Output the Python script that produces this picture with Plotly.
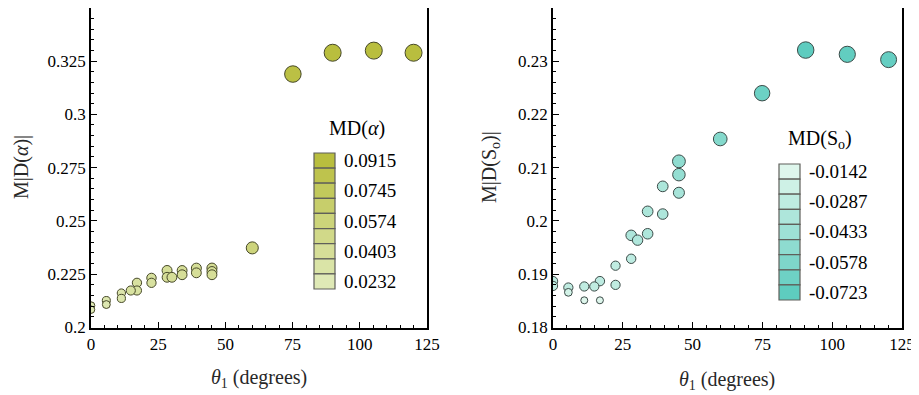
import plotly.graph_objects as go

# ---------------- data ----------------
theta_a = [120.0, 105.2, 89.9, 75.1, 60.0, 45.0, 45.0, 45.0, 39.2, 39.2, 33.9, 33.9,
           28.3, 28.3, 30.1, 22.5, 22.5, 17.1, 17.1, 14.8, 11.3, 11.3, 5.7, 5.7, 0.0, 0.0]
mdD_a = [0.3289, 0.3299, 0.3289, 0.3189, 0.2373, 0.2278, 0.2262, 0.2247, 0.2278, 0.2256,
         0.2267, 0.2247, 0.2267, 0.2235, 0.2235, 0.2232, 0.2209, 0.2209, 0.2173, 0.2173,
         0.2161, 0.2136, 0.2126, 0.2107, 0.2102, 0.2083]
md_alpha = [0.0915, 0.0915, 0.0915, 0.088, 0.056, 0.042, 0.041, 0.040, 0.041, 0.040,
            0.040, 0.040, 0.041, 0.040, 0.040, 0.037, 0.036, 0.036, 0.035, 0.035,
            0.029, 0.028, 0.027, 0.026, 0.0245, 0.0232]

theta_s = [90.5, 105.4, 120.2, 74.9, 59.9, 45.1, 45.1, 45.1, 39.3, 39.3, 33.9, 33.9,
           28.0, 30.3, 28.0, 22.4, 22.4, 16.8, 16.8, 14.8, 11.2, 11.2, 5.5, 5.5, 0.0, 0.0]
mdD_s = [0.2321, 0.2313, 0.2303, 0.2240, 0.2154, 0.2112, 0.2087, 0.2053, 0.2065, 0.2013,
         0.2018, 0.1976, 0.1973, 0.1964, 0.1929, 0.1916, 0.1880, 0.1887, 0.1851, 0.1877,
         0.1877, 0.1851, 0.1875, 0.1866, 0.1887, 0.1878]
md_So = [-0.0723, -0.0705, -0.0690, -0.0660, -0.0550, -0.0500, -0.0480, -0.0390, -0.0370,
         -0.0360, -0.0370, -0.0360, -0.0360, -0.0350, -0.0290, -0.0280, -0.0280, -0.0290,
         -0.0142, -0.0280, -0.0280, -0.0142, -0.0280, -0.0190, -0.0290, -0.0280]

legend_alpha_labels = [0.0915, 0.0745, 0.0574, 0.0403, 0.0232]
legend_So_labels = [-0.0142, -0.0287, -0.0433, -0.0578, -0.0723]

x_ticks = [0, 25, 50, 75, 100, 125]
y_ticks_a = [0.2, 0.225, 0.25, 0.275, 0.3, 0.325]
y_ticks_s = [0.18, 0.19, 0.2, 0.21, 0.22, 0.23]

# ---------------- style ----------------
FONT = "Liberation Serif"
A_LIGHT, A_DARK = (223, 233, 182), (185, 190, 62)
S_LIGHT, S_DARK = (222, 246, 236), (94, 204, 191)
OFF = 8                      # page body margin
W, H = 919 - OFF, 395 - OFF  # figure size


def px(x):   # page x pixel -> paper fraction
    return (x - OFF) / W


def py(y):   # page y pixel (from top) -> paper fraction
    return min(1.0, max(0.0, 1 - (y - OFF) / H))


def lerp(c0, c1, t):
    return "rgb(%d,%d,%d)" % tuple(round(a + (b - a) * t) for a, b in zip(c0, c1))


def fmt(v):
    return "%g" % v


amin, amax = min(legend_alpha_labels), max(legend_alpha_labels)
smin, smax = min(legend_So_labels), max(legend_So_labels)  # smin most negative

size_a = [7.5 + 9.5 * (v - amin) / (amax - amin) for v in md_alpha]
size_s = [7.0 + 9.5 * (smax - v) / (smax - smin) for v in md_So]

fig = go.Figure()
fig.add_trace(go.Scatter(
    x=theta_a, y=mdD_a, mode="markers", xaxis="x", yaxis="y",
    marker=dict(size=size_a, color=md_alpha, cmin=amin, cmax=amax,
                colorscale=[[0, lerp(A_LIGHT, A_DARK, 0)], [1, lerp(A_LIGHT, A_DARK, 1)]],
                line=dict(color="rgb(70,72,40)", width=1), opacity=1),
    showlegend=False, cliponaxis=True))
fig.add_trace(go.Scatter(
    x=theta_s, y=mdD_s, mode="markers", xaxis="x2", yaxis="y2",
    marker=dict(size=size_s, color=md_So, cmin=smin, cmax=smax,
                colorscale=[[0, lerp(S_LIGHT, S_DARK, 1)], [1, lerp(S_LIGHT, S_DARK, 0)]],
                line=dict(color="rgb(60,75,72)", width=1), opacity=1),
    showlegend=False, cliponaxis=True))

axis_common = dict(showline=True, linecolor="black", linewidth=1.5, mirror=True,
                   ticks="inside", ticklen=6, tickwidth=1, tickcolor="black",
                   showgrid=False, zeroline=False, automargin=False,
                   tickfont=dict(family=FONT, size=17, color="black"))

fig.update_layout(
    width=W, height=H, margin=dict(l=0, r=0, t=0, b=0, autoexpand=False),
    paper_bgcolor="white", plot_bgcolor="white",
    font=dict(family=FONT),
    xaxis=dict(domain=[px(91), px(427)], range=[0, 125], tickvals=x_ticks,
               ticktext=[fmt(v) for v in x_ticks],
               minor=dict(dtick=5, ticks="inside", ticklen=3, tickcolor="black"),
               anchor="y", **axis_common),
    yaxis=dict(domain=[py(328), py(8)], range=[0.1997, 0.3499], tickvals=y_ticks_a,
               ticktext=[fmt(v) for v in y_ticks_a],
               minor=dict(dtick=0.005, tick0=0.2, ticks="inside", ticklen=3, tickcolor="black"),
               anchor="x", **axis_common),
    xaxis2=dict(domain=[px(553), px(902)], range=[0, 125], tickvals=x_ticks,
                ticktext=[fmt(v) for v in x_ticks],
                minor=dict(dtick=5, ticks="inside", ticklen=3, tickcolor="black"),
                anchor="y2", **axis_common),
    yaxis2=dict(domain=[py(328), py(8)], range=[0.1799, 0.24], tickvals=y_ticks_s,
                ticktext=[fmt(v) for v in y_ticks_s],
                minor=dict(dtick=0.002, tick0=0.18, ticks="inside", ticklen=3, tickcolor="black"),
                anchor="x2", **axis_common),
)

# ---------------- swatch legends ----------------
shapes = []
annotations = []


def build_legend(x0, x1, top_px, bot_px, light, dark, labels, dark_on_top, title, tx, ty, lx):
    n = 2 * len(labels) - 1
    h = (bot_px - top_px) / n
    for i in range(n):
        t = (1 - i / (n - 1)) if dark_on_top else (i / (n - 1))
        col = lerp(light, dark, t)
        yt = top_px + i * h
        yb = yt + h
        shapes.append(dict(type="rect", xref="paper", yref="paper",
                           x0=px(x0), x1=px(x1), y0=py(yb), y1=py(yt),
                           fillcolor=col, line=dict(color="rgb(95,95,90)", width=1.2),
                           layer="above"))
    for j, lab in enumerate(labels):
        yc = top_px + 2 * j * h + h / 2
        annotations.append(dict(x=px(lx), y=py(yc), xref="paper", yref="paper",
                                text=fmt(lab), showarrow=False, xanchor="left", yanchor="middle",
                                font=dict(family=FONT, size=19, color="black")))
    annotations.append(dict(x=px(tx), y=py(ty), xref="paper", yref="paper",
                            text=title, showarrow=False, xanchor="center", yanchor="middle",
                            font=dict(family=FONT, size=20, color="black")))


build_legend(314, 335, 153, 289, A_LIGHT, A_DARK, legend_alpha_labels, True,
             "MD(<i>α</i>)", 357, 128, 342)
build_legend(779, 800, 164, 300, S_LIGHT, S_DARK, legend_So_labels, False,
             "MD(S<sub>o</sub>)", 820, 139, 807)

# axis titles
annotations += [
    dict(x=px(259), y=py(378), xref="paper", yref="paper", showarrow=False,
         text="<i>θ</i><sub>1</sub> (degrees)", xanchor="center", yanchor="middle",
         font=dict(family=FONT, size=20, color="rgb(40,40,40)")),
    dict(x=px(727), y=py(380), xref="paper", yref="paper", showarrow=False,
         text="<i>θ</i><sub>1</sub> (degrees)", xanchor="center", yanchor="middle",
         font=dict(family=FONT, size=20, color="rgb(40,40,40)")),
    dict(x=px(21), y=py(167), xref="paper", yref="paper", showarrow=False,
         text="M|D(<i>α</i>)|", textangle=-90, xanchor="center", yanchor="middle",
         font=dict(family=FONT, size=20, color="rgb(40,40,40)")),
    dict(x=px(490), y=py(167), xref="paper", yref="paper", showarrow=False,
         text="M|D(S<sub>o</sub>)|", textangle=-90, xanchor="center", yanchor="middle",
         font=dict(family=FONT, size=20, color="rgb(40,40,40)")),
]

fig.update_layout(shapes=shapes, annotations=annotations)
fig.write_html("out.html")
